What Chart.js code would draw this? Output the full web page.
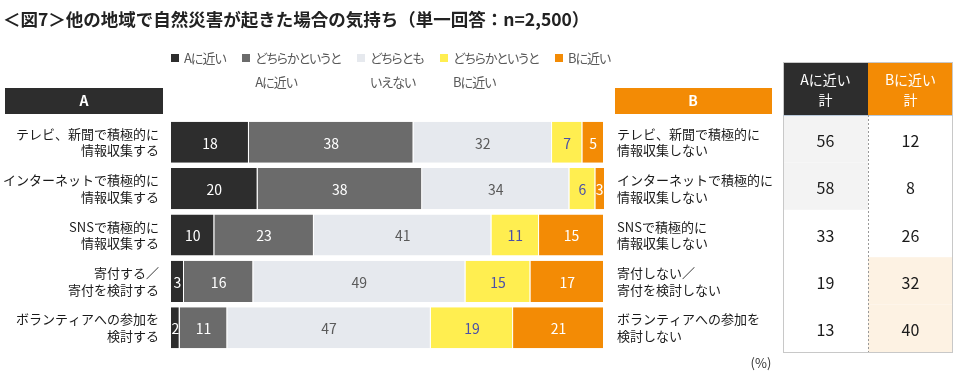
<!DOCTYPE html>
<html lang="ja">
<head>
<meta charset="utf-8">
<title>図7</title>
<script src="https://cdn.jsdelivr.net/npm/chart.js@4.4.1/dist/chart.umd.min.js"></script>
<style>
  html, body { margin: 0; padding: 0; background: #fff; }
  #wrap { position: relative; width: 960px; height: 375px; overflow: hidden; }
  #legend { position: absolute; left: 171px; top: 46px; display: flex; font-family: "Noto Sans CJK JP", sans-serif;
            font-size: 13px; color: #595959; line-height: 24px; font-feature-settings: "palt"; letter-spacing: -1px; }
  #legend .item { display: flex; align-items: flex-start; margin-right: 16.5px; }
  #legend .box { width: 8px; height: 8px; margin: 8px 5px 0 0; flex: none; }
</style>
</head>
<body>
<div id="wrap">
  <canvas id="chart" width="960" height="375"></canvas>
  <div id="legend"></div>
</div>
<script>
var titleText = '＜図7＞他の地域で自然災害が起きた場合の気持ち（単一回答：n=2,500）';

var labelsA = [
  ['テレビ、新聞で積極的に', '情報収集する'],
  ['インターネットで積極的に', '情報収集する'],
  ['SNSで積極的に', '情報収集する'],
  ['寄付する／', '寄付を検討する'],
  ['ボランティアへの参加を', '検討する']
];
var labelsB = [
  ['テレビ、新聞で積極的に', '情報収集しない'],
  ['インターネットで積極的に', '情報収集しない'],
  ['SNSで積極的に', '情報収集しない'],
  ['寄付しない／', '寄付を検討しない'],
  ['ボランティアへの参加を', '検討しない']
];
var seriesNames = [['Aに近い'], ['どちらかというと', 'Aに近い'], ['どちらとも', 'いえない'], ['どちらかというと', 'Bに近い'], ['Bに近い']];

// values (%)
var nearA   = [18, 20, 10,  3,  2];
var leanA   = [38, 38, 23, 16, 11];
var neutral = [32, 34, 41, 49, 47];
var leanB   = [ 7,  6, 11, 15, 19];
var nearB   = [ 5,  3, 15, 17, 21];

// table totals
var totalA = [56, 58, 33, 19, 13];
var totalB = [12,  8, 26, 32, 40];

var segColors   = ['#2d2d2d', '#6b6b6b', '#e6e9ee', '#ffee50', '#f38b05'];
var valueColors = ['#ffffff', '#ffffff', '#5a5a5a', '#4a4fa8', '#ffffff'];
var FONT = '"Noto Sans CJK JP", sans-serif';

var seriesData = [nearA, leanA, neutral, leanB, nearB];

var datasets = seriesData.map(function(d, i) {
  return {
    label: seriesNames[i].join(''),
    data: d,
    backgroundColor: segColors[i],
    borderColor: '#ffffff',
    borderWidth: {top: 0, bottom: 0, left: 0, right: 1},
    borderSkipped: false,
    barPercentage: 1,
    categoryPercentage: 0.885,
    clip: 0
  };
});

// top two values of a column get a tinted cell
function topTwo(arr) {
  var s = arr.slice().sort(function(a, b) { return b - a; });
  return arr.map(function(v) { return v >= s[1]; });
}

function textLines(ctx, lines, x, cy, lh) {
  var y0 = cy - (lines.length - 1) * lh / 2;
  lines.forEach(function(t, k) { ctx.fillText(t, x, y0 + k * lh); });
}

var overlay = {
  id: 'overlay',
  afterDatasetsDraw: function(chart) {
    var ctx = chart.ctx;
    var area = chart.chartArea;
    var yScale = chart.scales.y;
    ctx.save();

    // values inside segments
    ctx.font = '14px ' + FONT;
    ctx.textAlign = 'center';
    ctx.textBaseline = 'middle';
    chart.data.datasets.forEach(function(ds, di) {
      chart.getDatasetMeta(di).data.forEach(function(bar, i) {
        var l = Math.min(bar.base, bar.x);
        var r = Math.min(Math.max(bar.base, bar.x), area.right);
        ctx.fillStyle = valueColors[di];
        ctx.fillText(String(ds.data[i]), (l + r) / 2, bar.y + 1);
      });
    });

    // title
    ctx.textAlign = 'left';
    ctx.fillStyle = '#222';
    ctx.font = 'bold 17.5px ' + FONT;
    ctx.fillText(titleText, 3, 19);

    // A / B headers
    ctx.fillStyle = '#2d2d2d';
    ctx.fillRect(5, 88, 158, 26);
    ctx.fillStyle = '#f38b05';
    ctx.fillRect(615, 88, 157, 26);
    ctx.fillStyle = '#fff';
    ctx.font = 'bold 14px ' + FONT;
    ctx.textAlign = 'center';
    ctx.fillText('A', 84, 101);
    ctx.fillText('B', 693, 101);

    // row labels
    ctx.font = '13px ' + FONT;
    ctx.fillStyle = '#1a1a1a';
    for (var i = 0; i < labelsA.length; i++) {
      var cy = yScale.getPixelForValue(i);
      ctx.textAlign = 'right';
      textLines(ctx, labelsA[i], 159, cy, 16.5);
      ctx.textAlign = 'left';
      textLines(ctx, labelsB[i], 617, cy, 16.5);
    }

    // totals table
    var tx = 783, tm = 868, tr = 953, top = 62, hb = 115, bottom = 352;
    var rh = (bottom - hb) / totalA.length;
    var hiA = topTwo(totalA), hiB = topTwo(totalB);
    for (i = 0; i < totalA.length; i++) {
      if (hiA[i]) { ctx.fillStyle = '#f3f3f3'; ctx.fillRect(tx, hb + i * rh, tm - tx, rh); }
      if (hiB[i]) { ctx.fillStyle = '#fdf2e3'; ctx.fillRect(tm, hb + i * rh, tr - tm, rh); }
    }
    ctx.fillStyle = '#2d2d2d';
    ctx.fillRect(tx, top, tm - tx, hb - top);
    ctx.fillStyle = '#f38b05';
    ctx.fillRect(tm, top, tr - tm, hb - top);
    ctx.strokeStyle = '#c8c8c8';
    ctx.lineWidth = 1;
    ctx.strokeRect(tx + 0.5, top + 0.5, tr - tx - 1, bottom - top);
    ctx.strokeStyle = '#b9c9da';
    ctx.beginPath(); ctx.moveTo(tx, hb + 0.5); ctx.lineTo(tr, hb + 0.5); ctx.stroke();
    ctx.strokeStyle = '#999';
    ctx.setLineDash([2, 2]);
    ctx.beginPath(); ctx.moveTo(tm + 0.5, hb); ctx.lineTo(tm + 0.5, bottom); ctx.stroke();
    ctx.setLineDash([]);

    ctx.textAlign = 'center';
    ctx.fillStyle = '#fff';
    ctx.font = '14px ' + FONT;
    textLines(ctx, ['Aに近い', '計'], (tx + tm) / 2, 90, 20);
    textLines(ctx, ['Bに近い', '計'], (tm + tr) / 2, 90, 20);

    ctx.fillStyle = '#1a1a1a';
    ctx.font = '16px ' + FONT;
    for (i = 0; i < totalA.length; i++) {
      var ry = hb + (i + 0.5) * rh + 2;
      ctx.fillText(String(totalA[i]), (tx + tm) / 2, ry);
      ctx.fillText(String(totalB[i]), (tm + tr) / 2, ry);
    }

    // unit
    ctx.fillStyle = '#333';
    ctx.font = '13px ' + FONT;
    ctx.fillText('(%)', 761, 363);
    ctx.restore();
  }
};

var chart = new Chart(document.getElementById('chart').getContext('2d'), {
  type: 'bar',
  data: { labels: labelsA.map(function(l) { return l.join(''); }), datasets: datasets },
  options: {
    indexAxis: 'y',
    responsive: false,
    animation: false,
    layout: { padding: { left: 171, right: 356, top: 119, bottom: 24 } },
    scales: {
      x: { stacked: true, min: 0, max: 100, display: false },
      y: { stacked: true, display: false }
    },
    plugins: { legend: { display: false }, tooltip: { enabled: false } }
  },
  plugins: [overlay]
});

// html legend built from the datasets
var legendEl = document.getElementById('legend');
chart.data.datasets.forEach(function(ds, i) {
  var item = document.createElement('div');
  item.className = 'item';
  var box = document.createElement('span');
  box.className = 'box';
  box.style.background = ds.backgroundColor;
  var txt = document.createElement('div');
  txt.innerHTML = seriesNames[i].join('<br>');
  item.appendChild(box);
  item.appendChild(txt);
  legendEl.appendChild(item);
});
</script>
</body>
</html>
